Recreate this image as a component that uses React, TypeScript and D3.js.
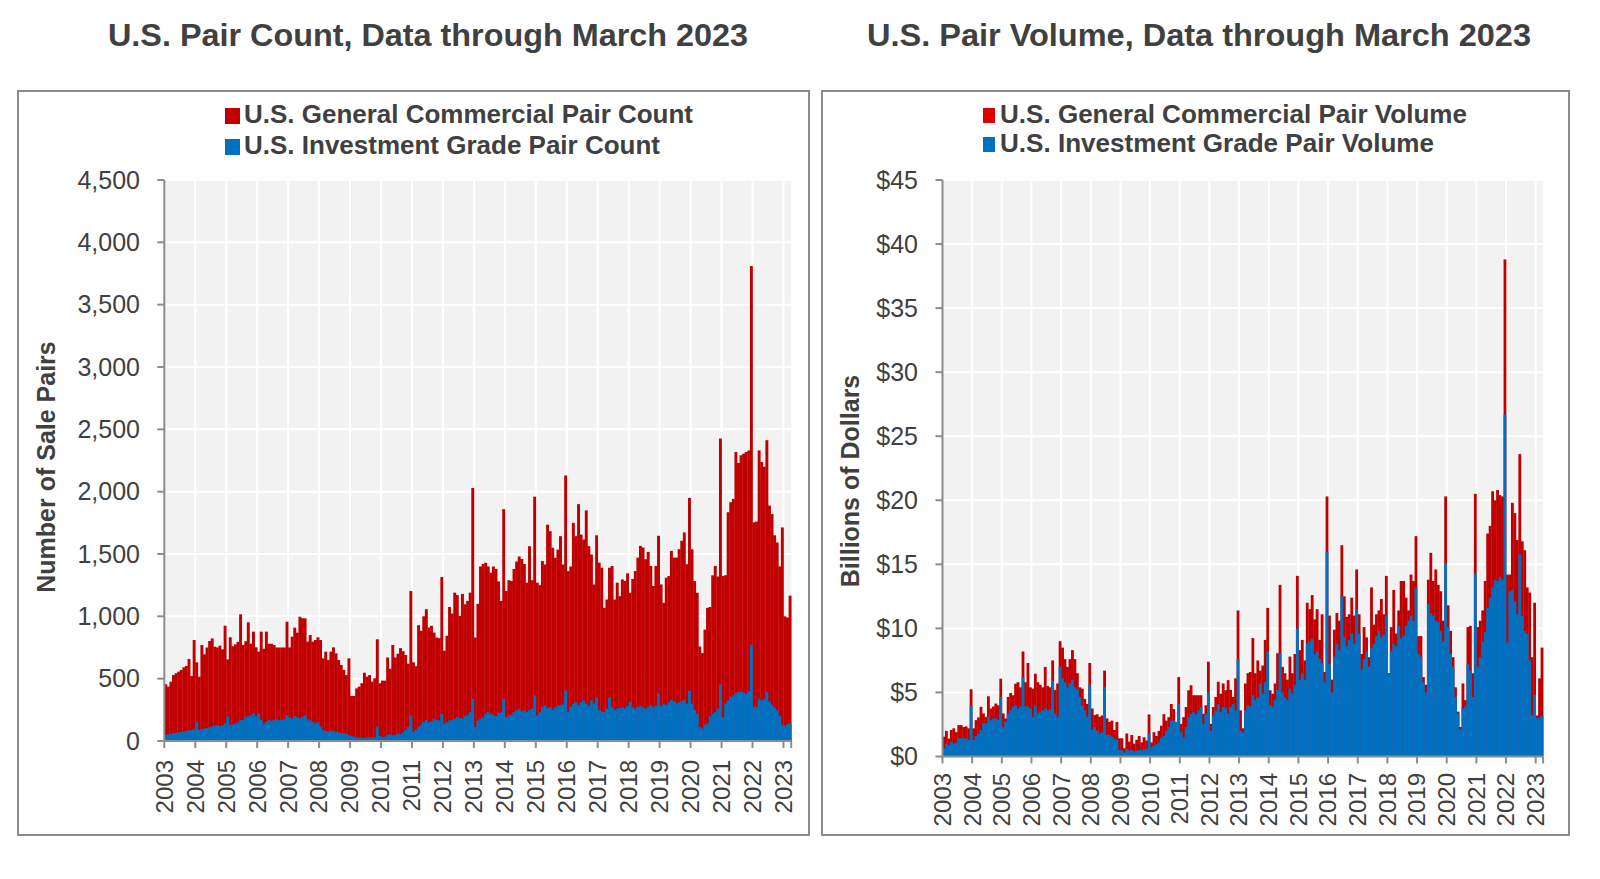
import React from "react";
import * as d3 from "d3";

const yearLabels = ["2003","2004","2005","2006","2007","2008","2009","2010","2011","2012","2013","2014","2015","2016","2017","2018","2019","2020","2021","2022","2023"];

// U.S. General Commercial Pair Count (monthly, Jan 2003 - Mar 2023)
const countGeneralCommercial = [
  455, 436, 476, 529, 543, 556, 570, 591, 602, 658, 521, 810,
  631, 516, 770, 695, 750, 802, 823, 757, 750, 765, 735, 925,
  655, 832, 760, 775, 795, 1016, 770, 800, 952, 780, 877, 752,
  717, 877, 740, 877, 780, 780, 770, 750, 750, 750, 750, 957,
  751, 837, 909, 869, 997, 984, 984, 797, 850, 797, 810, 832,
  810, 663, 717, 650, 717, 751, 703, 650, 610, 570, 529, 663,
  361, 361, 422, 436, 463, 548, 516, 529, 476, 503, 816, 463,
  484, 484, 670, 580, 770, 670, 700, 745, 720, 690, 620, 1203,
  631, 600, 929, 884, 1000, 1057, 910, 924, 870, 830, 825, 1315,
  724, 844, 1075, 1022, 1190, 1171, 1003, 1180, 1097, 1124, 1190, 2030,
  830, 1100, 1400, 1420, 1430, 1400, 1350, 1400, 1380, 1280, 1124, 1860,
  1203, 1290, 1283, 1380, 1440, 1480, 1460, 1420, 1270, 1563, 1290, 1960,
  1270, 1250, 1443, 1416, 1735, 1683, 1550, 1470, 1535, 1643, 1416, 2130,
  1363, 1400, 1750, 1643, 1900, 1656, 1616, 1850, 1563, 1496, 1256, 1650,
  1431, 1390, 1068, 1135, 1390, 1404, 1135, 1270, 1162, 1296, 1283, 1345,
  1189, 1300, 1363, 1471, 1565, 1552, 1458, 1517, 1404, 1243, 1404, 1646,
  1256, 1108, 1310, 1323, 1525, 1471, 1471, 1539, 1606, 1673, 1418, 1950,
  1538, 1283, 1189, 758, 705, 893, 1068, 1075, 1329, 1404, 1320, 2426,
  1323, 1330, 1835, 1915, 1942, 2318, 2230, 2292, 2305, 2318, 2330, 3810,
  1754, 1760, 2331, 2238, 2200, 2413, 1888, 1820, 1650, 1592, 1400, 1713,
  1000, 990, 1166,
];

// U.S. Investment Grade Pair Count
const countInvestmentGrade = [
  48, 55, 60, 62, 65, 70, 72, 75, 80, 85, 88, 95,
  155, 90, 95, 100, 105, 110, 120, 125, 128, 120, 125, 140,
  195, 130, 135, 140, 150, 168, 170, 195, 200, 208, 222, 200,
  222, 170, 140, 155, 168, 160, 170, 175, 168, 170, 175, 208,
  190, 180, 200, 190, 182, 195, 205, 175, 165, 155, 142, 150,
  115, 88, 80, 75, 82, 80, 75, 70, 65, 61, 60, 48,
  40, 35, 30, 25, 28, 25, 30, 28, 30, 28, 115, 40,
  30, 35, 50, 55, 45, 50, 60, 55, 70, 90, 112, 205,
  72, 90, 112, 133, 152, 170, 150, 160, 178, 170, 165, 218,
  138, 150, 165, 170, 178, 192, 185, 180, 200, 210, 232, 338,
  112, 165, 178, 192, 218, 232, 220, 210, 200, 225, 230, 338,
  192, 205, 210, 232, 245, 258, 240, 245, 232, 250, 260, 365,
  205, 230, 272, 285, 265, 272, 250, 272, 285, 290, 295, 405,
  232, 272, 298, 311, 290, 311, 325, 300, 280, 325, 300, 351,
  250, 240, 230, 260, 350, 270, 250, 260, 265, 270, 260, 280,
  315, 270, 260, 275, 280, 270, 260, 275, 290, 270, 280, 382,
  280, 300, 290, 310, 330, 320, 300, 310, 320, 330, 300, 403,
  300, 250, 220, 113, 100, 130, 140, 200, 220, 234, 260, 454,
  193, 300, 328, 355, 368, 387, 395, 395, 390, 380, 400, 772,
  274, 274, 341, 328, 340, 395, 315, 290, 269, 247, 200, 126,
  126, 134, 140,
];

// U.S. General Commercial Pair Volume ($ billions)
const volumeGeneralCommercial = [
  1.55, 2.0, 1.4, 2.07, 2.2, 1.9, 2.45, 2.45, 2.3, 2.35, 2.2, 5.25,
  2.2, 2.84, 3.05, 3.88, 3.36, 3.1, 4.7, 3.75, 3.9, 4.13, 4.0, 6.07,
  3.36, 2.97, 4.65, 4.96, 4.78, 5.68, 5.8, 5.4, 8.2, 5.8, 7.3, 5.4,
  5.3, 6.46, 5.8, 5.6, 5.4, 7.0, 5.5, 5.4, 7.5, 5.2, 5.7, 9.0,
  8.5, 7.6, 7.0, 7.6, 8.3, 7.6, 6.5, 5.4, 5.3, 4.5, 4.1, 7.3,
  3.75, 3.23, 3.3, 3.1, 3.2, 6.7, 2.97, 2.7, 2.8, 2.07, 2.7, 1.42,
  1.42, 0.65, 1.8, 1.16, 1.68, 1.0, 1.3, 1.6, 1.1, 1.5, 1.25, 3.28,
  1.1, 1.9, 1.6, 2.0, 2.4, 3.3, 2.8, 3.07, 4.1, 3.7, 2.55, 6.2,
  2.55, 3.07, 3.86, 5.17, 5.56, 4.78, 4.78, 4.78, 4.78, 3.33, 4.0, 7.4,
  2.55, 3.86, 4.65, 5.83, 4.9, 5.7, 5.17, 5.96, 5.2, 4.65, 6.1, 11.4,
  3.6, 2.2, 5.7, 6.5, 6.6, 9.24, 6.5, 7.5, 6.7, 7.1, 9.1, 11.6,
  5.17, 4.9, 5.7, 8.06, 13.4, 7.0, 6.5, 6.0, 7.8, 6.5, 8.0, 14.1,
  8.3, 9.1, 7.5, 12.0, 11.5, 12.6, 10.7, 11.5, 9.1, 11.1, 6.6, 20.3,
  11.0, 6.0, 9.9, 11.2, 10.6, 16.5, 12.5, 10.9, 11.1, 12.4, 11.0, 14.6,
  11.1, 8.0, 10.1, 9.3, 7.75, 13.2, 10.3, 11.1, 11.4, 12.3, 11.1, 14.1,
  6.5, 10.1, 13.0, 9.6, 11.4, 13.7, 13.7, 12.4, 11.4, 14.2, 13.7, 17.2,
  9.4, 9.4, 6.2, 5.6, 13.8, 15.9, 13.7, 14.6, 13.4, 12.9, 10.6, 20.3,
  11.8, 9.8, 7.75, 5.4, 3.5, 2.3, 5.7, 4.4, 10.1, 10.2, 6.5, 20.5,
  10.1, 10.6, 11.4, 13.7, 17.4, 18.0, 20.7, 20.0, 20.8, 20.4, 20.3, 38.8,
  14.2, 14.2, 19.8, 19.0, 16.9, 23.6, 16.8, 16.1, 13.2, 12.8, 7.75, 12.0,
  3.2, 6.1, 8.5,
];

// U.S. Investment Grade Pair Volume ($ billions)
const volumeInvestmentGrade = [
  0.65, 1.0, 0.9, 1.16, 1.0, 1.1, 1.42, 1.42, 1.42, 1.4, 1.3, 4.0,
  1.3, 1.6, 1.8, 2.07, 2.6, 2.6, 3.1, 2.84, 2.97, 2.97, 2.84, 4.65,
  2.3, 2.7, 3.36, 3.6, 3.9, 4.0, 3.75, 3.9, 6.2, 3.9, 3.9, 3.75,
  3.1, 4.0, 3.36, 3.5, 3.6, 3.75, 3.6, 3.7, 5.9, 3.36, 3.1, 7.0,
  6.1, 5.8, 5.4, 5.7, 6.0, 5.4, 5.2, 4.65, 4.0, 3.6, 3.1, 5.6,
  2.07, 2.3, 2.0, 1.8, 1.9, 5.4, 1.68, 1.68, 1.55, 1.4, 1.3, 0.5,
  0.5, 0.3, 0.6, 0.45, 0.5, 0.4, 0.45, 0.5, 0.5, 0.55, 0.6, 1.8,
  0.7, 0.85, 0.97, 1.1, 1.5, 1.6, 2.0, 2.3, 2.8, 2.8, 2.7, 4.07,
  1.9, 1.5, 2.3, 3.07, 3.33, 3.46, 3.3, 3.6, 3.86, 2.55, 3.3, 5.0,
  2.0, 3.2, 3.6, 4.1, 3.46, 3.86, 3.8, 3.33, 3.86, 4.1, 3.6, 7.6,
  2.0, 1.9, 3.6, 4.0, 3.9, 4.78, 4.4, 4.6, 5.7, 4.9, 5.8, 8.2,
  4.0, 3.9, 4.4, 5.2, 8.0, 5.0, 4.6, 4.4, 5.3, 4.9, 5.6, 10.0,
  6.0, 6.5, 6.0, 8.8, 9.0, 9.2, 8.0, 8.2, 7.6, 7.3, 5.8, 16.0,
  7.2, 5.0, 7.8, 8.8, 8.3, 12.5, 9.3, 8.6, 9.1, 9.6, 8.8, 11.5,
  9.6, 6.8, 7.6, 8.2, 7.0, 8.5, 8.8, 9.4, 9.8, 9.3, 9.5, 11.0,
  6.5, 8.2, 8.8, 8.6, 10.2, 9.2, 9.4, 10.2, 10.6, 11.0, 10.6, 13.2,
  8.0, 7.8, 5.8, 5.0, 11.9, 11.2, 11.0, 10.6, 10.5, 9.8, 9.0, 15.1,
  10.1, 8.0, 7.0, 4.65, 3.36, 2.1, 3.75, 3.9, 7.2, 6.7, 4.65, 14.3,
  7.0, 7.75, 9.0, 9.7, 11.6, 12.4, 13.2, 13.8, 13.7, 14.0, 13.8, 26.7,
  8.9, 12.9, 13.0, 12.1, 11.1, 15.8, 11.0, 9.8, 9.6, 7.5, 3.2, 4.8,
  3.0, 3.0, 3.2,
];

const countTicks = [0, 500, 1000, 1500, 2000, 2500, 3000, 3500, 4000, 4500];
const volumeTicks = [0, 5, 10, 15, 20, 25, 30, 35, 40, 45];

const RED = "#C00000";
const BLUE = "#0070C0";
const TEXT = "#404040";
const AXIS = "#8C8C8C";
const TITLE_FONT = "'Liberation Sans Narrow','Arial Narrow','Liberation Sans',Arial,sans-serif";
const BODY_FONT = "'Liberation Sans',Arial,Helvetica,sans-serif";

type PanelProps = {
  box: [number, number, number, number];
  title: string;
  titleX: number;
  titleW: number;
  legendLabels: [string, string];
  legendRed: string;
  legendSq: { x: number; w: number; h: number; y: [number, number] };
  legendText: { x: number; base: [number, number]; w: [number, number] };
  plot: { x0: number; x1: number; top: number; base: number; max: number };
  ticks: number[];
  tickFmt: (v: number) => string;
  tickRight: number;
  yTitle: string;
  yTitlePos: [number, number];
  yearLabelY: number;
  red: number[];
  blue: number[];
};

function Panel(p: PanelProps) {
  const n = p.red.length;
  const idx = d3.range(n);
  const x = d3.scaleBand<number>().domain(idx).range([p.plot.x0, p.plot.x1]).paddingInner(0).paddingOuter(0);
  const y = d3.scaleLinear().domain([0, p.plot.max]).range([p.plot.base, p.plot.top]);
  const bw = x.bandwidth();
  const yearStarts = yearLabels.map((lab, i) => ({ lab, xs: x(i * 12) as number }));
  return (
    <g>
      <rect x={p.box[0]} y={p.box[1]} width={p.box[2]} height={p.box[3]} fill="#fff" stroke={AXIS} strokeWidth={2} />
      <text x={p.titleX} y={46} textAnchor="middle" fontFamily={TITLE_FONT} fontWeight="bold" fontSize={31} fill={TEXT}
        textLength={p.titleW} lengthAdjust="spacingAndGlyphs">{p.title}</text>
      {[0, 1].map((k) => (
        <g key={k}>
          <rect x={p.legendSq.x} y={p.legendSq.y[k]} width={p.legendSq.w} height={p.legendSq.h} fill={k === 0 ? p.legendRed : BLUE} />
          <text x={p.legendText.x} y={p.legendText.base[k]} fontFamily={TITLE_FONT} fontWeight="bold" fontSize={26.5} fill={TEXT}
            textLength={p.legendText.w[k]} lengthAdjust="spacingAndGlyphs">{p.legendLabels[k]}</text>
        </g>
      ))}
      <rect x={p.plot.x0} y={p.plot.top} width={p.plot.x1 - p.plot.x0} height={p.plot.base - p.plot.top} fill="#F2F2F2" />
      {p.ticks.slice(1).map((t) => (
        <line key={"h" + t} x1={p.plot.x0} x2={p.plot.x1} y1={y(t)} y2={y(t)} stroke="#fff" strokeWidth={2} />
      ))}
      {yearStarts.slice(1).map((d) => (
        <line key={"v" + d.lab} x1={d.xs} x2={d.xs} y1={p.plot.top} y2={p.plot.base} stroke="#fff" strokeWidth={2} />
      ))}
      {idx.map((i) => (
        <rect key={"r" + i} x={x(i)} y={y(p.red[i])} width={bw + 0.35} height={p.plot.base - y(p.red[i])} fill={RED} />
      ))}
      {idx.map((i) => (
        <rect key={"b" + i} x={x(i)} y={y(p.blue[i])} width={bw + 0.35} height={p.plot.base - y(p.blue[i])} fill={BLUE} />
      ))}
      <line x1={p.plot.x0} x2={p.plot.x0} y1={p.plot.top} y2={p.plot.base + 1} stroke={AXIS} strokeWidth={2} />
      <line x1={p.plot.x0 - 1} x2={p.plot.x1} y1={p.plot.base} y2={p.plot.base} stroke={AXIS} strokeWidth={2} />
      {p.ticks.map((t) => (
        <g key={"t" + t}>
          <line x1={p.plot.x0 - 7} x2={p.plot.x0} y1={y(t)} y2={y(t)} stroke={AXIS} strokeWidth={2} />
          <text x={p.tickRight} y={y(t)} dy="0.35em" textAnchor="end" fontFamily={BODY_FONT} fontSize={25} fill={TEXT}>{p.tickFmt(t)}</text>
        </g>
      ))}
      {yearStarts.map((d) => (
        <g key={"x" + d.lab}>
          <line x1={d.xs} x2={d.xs} y1={p.plot.base} y2={p.plot.base + 7} stroke={AXIS} strokeWidth={2} />
          <text transform={`translate(${d.xs},${p.yearLabelY}) rotate(-90)`} dy="0.35em" textAnchor="end"
            fontFamily={BODY_FONT} fontSize={24} fill={TEXT}>{d.lab}</text>
        </g>
      ))}
      <line x1={p.plot.x1} x2={p.plot.x1} y1={p.plot.base} y2={p.plot.base + 7} stroke={AXIS} strokeWidth={2} />
      <text transform={`translate(${p.yTitlePos[0]},${p.yTitlePos[1]}) rotate(-90)`} dy="0.35em" textAnchor="middle"
        fontFamily={BODY_FONT} fontWeight="bold" fontSize={25} fill={TEXT}>{p.yTitle}</text>
    </g>
  );
}

export default function App() {
  const commaFmt = d3.format(",");
  return (
    <svg width={1600} height={879} style={{ position: "absolute", left: 0, top: 0, background: "#fff" }}>
      <Panel
        box={[18, 91, 791, 744]}
        title="U.S. Pair Count, Data through March 2023"
        titleX={428}
        titleW={640}
        legendLabels={["U.S. General Commercial Pair Count", "U.S. Investment Grade Pair Count"]}
        legendRed={RED}
        legendSq={{ x: 225, w: 15, h: 16, y: [108, 139] }}
        legendText={{ x: 244, base: [123, 154], w: [449, 416] }}
        plot={{ x0: 164.3, x1: 791.2, top: 180, base: 741, max: 4500 }}
        ticks={countTicks}
        tickFmt={(v) => commaFmt(v)}
        tickRight={140}
        yTitle="Number of Sale Pairs"
        yTitlePos={[46, 467]}
        yearLabelY={760}
        red={countGeneralCommercial}
        blue={countInvestmentGrade}
      />
      <Panel
        box={[822, 91, 747, 744]}
        title="U.S. Pair Volume, Data through March 2023"
        titleX={1199}
        titleW={664}
        legendLabels={["U.S. General Commercial Pair Volume", "U.S. Investment Grade Pair Volume"]}
        legendRed="#E00000"
        legendSq={{ x: 983, w: 12, h: 15, y: [108, 137] }}
        legendText={{ x: 1000, base: [122.5, 151.5], w: [467, 434] }}
        plot={{ x0: 942.5, x1: 1543.1, top: 180, base: 756.5, max: 45 }}
        ticks={volumeTicks}
        tickFmt={(v) => "$" + v}
        tickRight={918}
        yTitle="Billions of Dollars"
        yTitlePos={[850, 481]}
        yearLabelY={773}
        red={volumeGeneralCommercial}
        blue={volumeInvestmentGrade}
      />
    </svg>
  );
}
